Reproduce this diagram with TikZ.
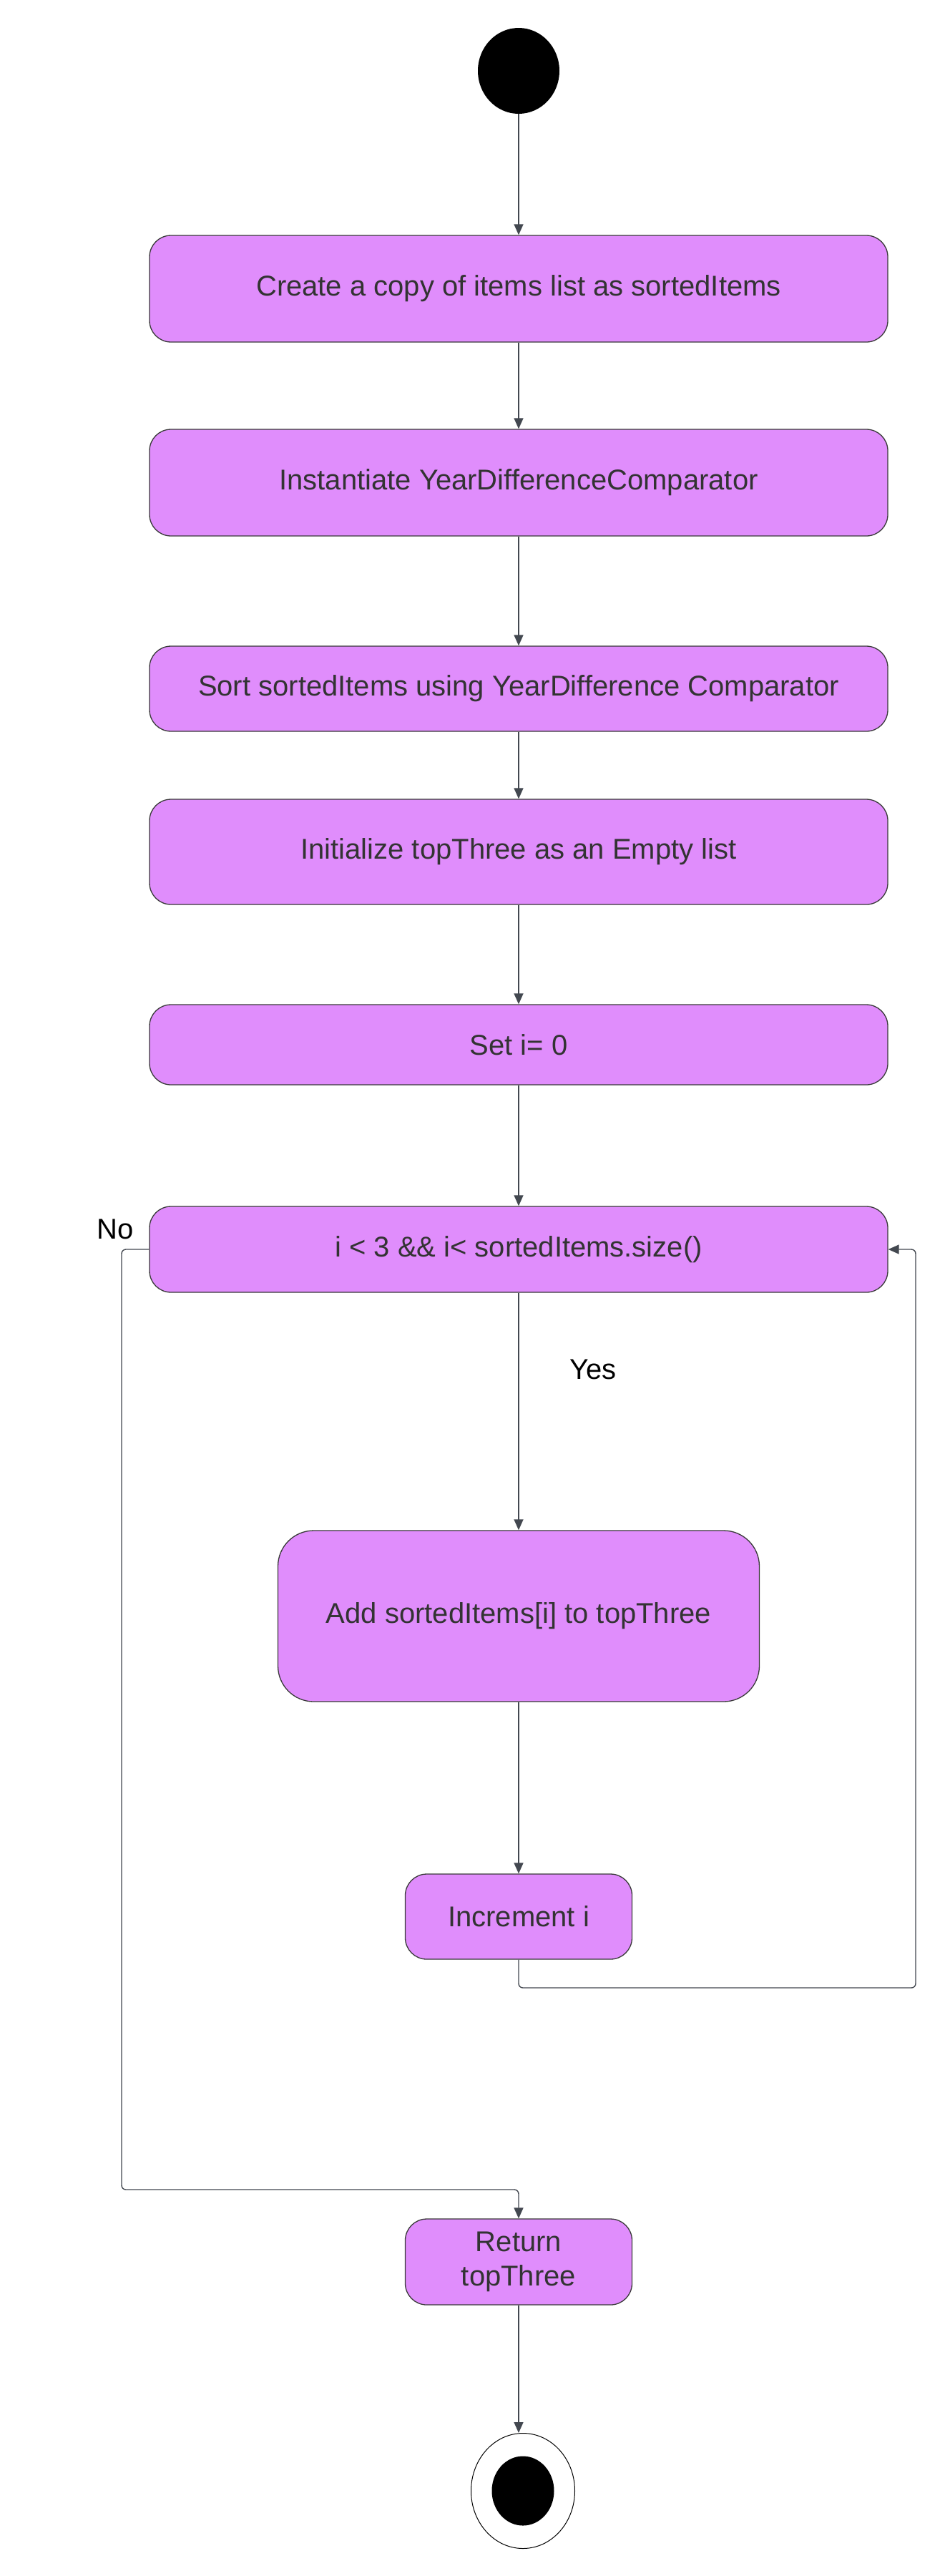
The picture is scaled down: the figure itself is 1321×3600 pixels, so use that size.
\documentclass[tikz,border=0pt]{standalone}
\usepackage{fontspec}
\setmainfont{Liberation Sans}
\usetikzlibrary{shapes.geometric,arrows.meta}
\definecolor{boxfill}{HTML}{E08DFC}
\definecolor{boxline}{HTML}{3A3A3A}
\definecolor{txt}{HTML}{333333}
\definecolor{conn}{HTML}{434850}
\tikzset{
  actbox/.style={draw=boxline, line width=1.3pt, fill=boxfill, rounded corners=30pt,
    text=txt, font=\fontsize{40}{48}\selectfont, align=center, inner sep=0pt},
  connector/.style={draw=conn, line width=1.4pt, -{Triangle[length=15pt,width=13pt]}},
  lbl/.style={font=\fontsize{40}{48}\selectfont, text=black}
}
\begin{document}
\begin{tikzpicture}[x=1pt,y=-1pt]
\useasboundingbox (0,0) rectangle (1321,3600);
\fill[white] (0,0) rectangle (1321,3600);

\node[ellipse, fill=black, minimum width=114pt, minimum height=120pt, inner sep=0pt] (start) at (725,99) {};

\node[actbox, minimum width=1032pt, minimum height=149pt] (b1) at (725,403.5) {Create a copy of items list as sortedItems};
\node[actbox, minimum width=1032pt, minimum height=149pt] (b2) at (725,674.5) {Instantiate YearDifferenceComparator};
\node[actbox, minimum width=1032pt, minimum height=119pt] (b3) at (725,962.5) {Sort sortedItems using YearDifference Comparator};
\node[actbox, minimum width=1032pt, minimum height=147pt] (b4) at (725,1190.5) {Initialize topThree as an Empty list};
\node[actbox, minimum width=1032pt, minimum height=112pt] (b5) at (725,1460) {Set i= 0};
\node[actbox, minimum width=1032pt, minimum height=120pt] (b6) at (725,1746) {i < 3 \&\& i< sortedItems.size()};
\node[actbox, rounded corners=50pt, minimum width=673pt, minimum height=239pt] (b7) at (725,2258.5) {Add sortedItems[i] to topThree};
\node[actbox, minimum width=317pt, minimum height=119pt] (b8) at (725,2678.5) {Increment i};
\node[actbox, minimum width=317pt, minimum height=120pt] (b9) at (725,3161) {Return\\topThree};

\node[ellipse, draw=black, line width=1pt, fill=white, minimum width=145pt, minimum height=161pt, inner sep=0pt] (endo) at (731,3481) {};
\node[ellipse, fill=black, minimum width=87pt, minimum height=97pt, inner sep=0pt] (endi) at (731,3481) {};

\node[lbl] (no) at (161,1718) {No};
\node[lbl] (yes) at (829,1914) {Yes};

\coordinate (loopc) at (1280,2778);
\coordinate (noc) at (170,3060);

\draw[connector] (start) -- (b1);
\draw[connector] (b1) -- (b2);
\draw[connector] (b2) -- (b3);
\draw[connector] (b3) -- (b4);
\draw[connector] (b4) -- (b5);
\draw[connector] (b5) -- (b6);
\draw[connector] (b6) -- (b7);
\draw[connector] (b7) -- (b8);
\draw[connector, rounded corners=6pt] (b8.south) -- (b8.south |- loopc) -- (loopc) -- (loopc |- b6.east) -- (b6.east);
\draw[connector, rounded corners=6pt] (b6.west) -| (noc) -| (b9.north);
\draw[connector] (b9.south) -- (b9.south |- endo.north);
\end{tikzpicture}
\end{document}
